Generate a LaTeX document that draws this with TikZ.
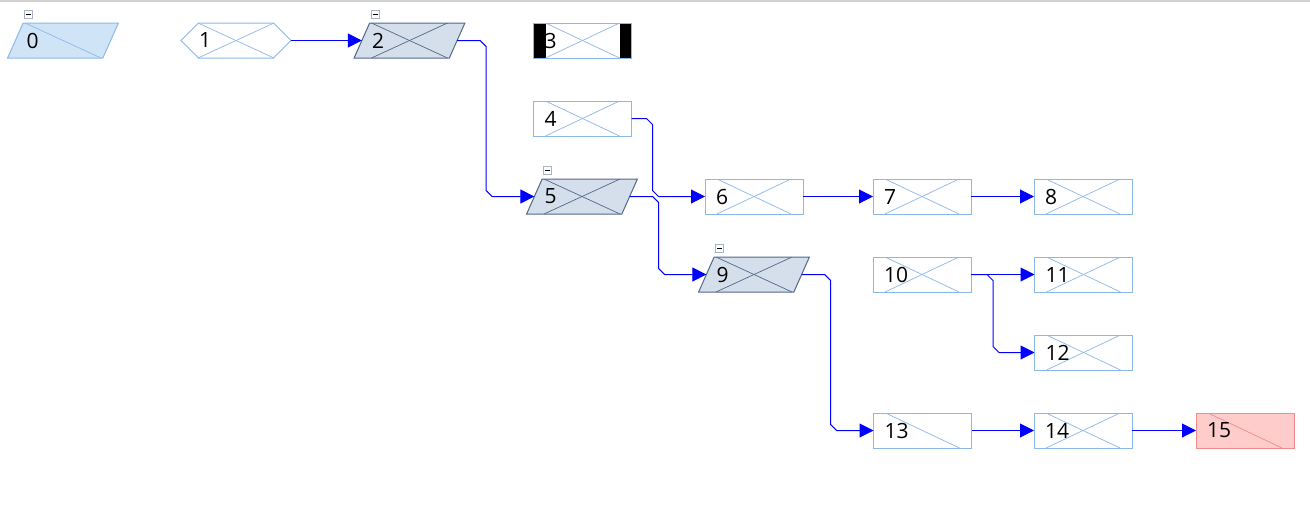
\documentclass[tikz,border=0pt]{standalone}
\usepackage{fontspec}
\setmainfont{Open Sans}
\usetikzlibrary{calc,arrows.meta,shapes.geometric,shapes.symbols}
\definecolor{boxline}{RGB}{140,184,232}
\definecolor{zerofill}{RGB}{208,228,248}
\definecolor{grpfill}{RGB}{213,223,235}
\definecolor{grpline}{RGB}{80,104,136}
\definecolor{redfill}{RGB}{255,204,204}
\definecolor{redline}{RGB}{240,140,140}
\definecolor{minusline}{RGB}{168,180,196}
\definecolor{linkblue}{RGB}{0,0,255}
\tikzset{
	item/.style={draw=boxline, line width=1pt, inner sep=0pt, outer sep=0pt, fill=white},
	rectitem/.style={item, rectangle, minimum width=98pt, minimum height=35pt},
	slantitem/.style={item, trapezium, trapezium left angle=64, trapezium right angle=116, inner xsep=10pt, inner ysep=4pt, trapezium stretches, minimum width=111pt, minimum height=35pt},
	hexitem/.style={item, signal, signal from=nowhere, signal to=west and east, minimum width=110pt, minimum height=35pt},
	grp/.style={draw=grpline, fill=grpfill},
	cross/.style 2 args={path picture={
		\draw[#1, line width=0.7pt] ($(path picture bounding box.center)+(-#2,-17.5)$) -- ($(path picture bounding box.center)+(#2,17.5)$);
		\draw[#1, line width=0.7pt] ($(path picture bounding box.center)+(-#2,17.5)$) -- ($(path picture bounding box.center)+(#2,-17.5)$);}},
	diag/.style 2 args={path picture={
		\draw[#1, line width=0.7pt] ($(path picture bounding box.center)+(-#2,-17.5)$) -- ($(path picture bounding box.center)+(#2,17.5)$);}},
	barcross/.style={path picture={
		\fill[black] (path picture bounding box.north west) rectangle ($(path picture bounding box.south west)+(12,0)$);
		\fill[black] (path picture bounding box.north east) rectangle ($(path picture bounding box.south east)+(-12,0)$);
		\draw[boxline, line width=0.7pt] ($(path picture bounding box.center)+(-37,-17.5)$) -- ($(path picture bounding box.center)+(37,17.5)$);
		\draw[boxline, line width=0.7pt] ($(path picture bounding box.center)+(-37,17.5)$) -- ($(path picture bounding box.center)+(37,-17.5)$);}},
	lbl/.style={anchor=west, inner sep=0pt, font=\fontsize{21}{25}\selectfont},
	minusbox/.style={draw=minusline, fill=white, line width=1pt, minimum size=8pt, inner sep=0pt, anchor=south west,
		path picture={\draw[black, line width=1pt] ($(path picture bounding box.center)+(-2.5,0)$) -- ($(path picture bounding box.center)+(2.5,0)$);}},
	link/.style={draw=linkblue, line width=1pt, -{Triangle[length=14pt,width=14pt]}}
}
\def\elbow#1#2#3{\draw[link] (#1.east) -- ++(#3,0) -- ++(6,6) -- ($(#2.west -| #1.east)+(#3+6,-6)$) -- ++(6,6) -- (#2.west);}

\begin{document}
\begin{tikzpicture}[x=1pt, y=-1pt]
		%%%%% START %%%%%
		\useasboundingbox (0,0) rectangle (1310,512);
		\draw[black!18, line width=2pt] (0,1) -- (1310,1);
		
		% first row
		\node[slantitem, fill=zerofill, diag={boxline}{38}, label={[lbl, xshift=11pt]west:0}] (n0) at (63,40.5) {};
		\node[hexitem, cross={boxline}{38}, label={[lbl, xshift=18pt]west:1}] (n1) at (236,40.5) {};
		\node[slantitem, grp, cross={grpline}{38}, label={[lbl, xshift=10pt]west:2}] (n2) at (409.5,40.5) {};
		\node[rectitem, barcross, label={[lbl, xshift=11pt]west:3}] (n3) at (582.5,40.5) {};
		
		\node[rectitem, cross={boxline}{37}, label={[lbl, xshift=11pt]west:4}] (n4) at (582.5,118.5) {};
		
		% middle rows
		\node[slantitem, grp, cross={grpline}{38}, label={[lbl, xshift=10pt]west:5}] (n5) at (582,196.5) {};
		\node[rectitem, cross={boxline}{37}, label={[lbl, xshift=11pt]west:6}] (n6) at (754,196.5) {};
		\node[rectitem, cross={boxline}{37}, label={[lbl, xshift=11pt]west:7}] (n7) at (922,196.5) {};
		\node[rectitem, cross={boxline}{37}, label={[lbl, xshift=11pt]west:8}] (n8) at (1083,196.5) {};
		
		\node[slantitem, grp, cross={grpline}{38}, label={[lbl, xshift=10pt]west:9}] (n9) at (754,274.5) {};
		\node[rectitem, cross={boxline}{37}, label={[lbl, xshift=11pt]west:10}] (n10) at (922,274.5) {};
		\node[rectitem, cross={boxline}{37}, label={[lbl, xshift=11pt]west:11}] (n11) at (1083.5,274.5) {};
		\node[rectitem, cross={boxline}{37}, label={[lbl, xshift=11pt]west:12}] (n12) at (1083.5,352.5) {};
		
		% last row
		\node[rectitem, diag={boxline}{37}, label={[lbl, xshift=11pt]west:13}] (n13) at (922.5,430.5) {};
		\node[rectitem, cross={boxline}{37}, label={[lbl, xshift=11pt]west:14}] (n14) at (1083,430.5) {};
		\node[rectitem, draw=redline, fill=redfill, diag={redline}{37}, label={[lbl, xshift=11pt]west:15}] (n15) at (1245,430.5) {};
		
		% collapse boxes
		\node[minusbox] (m0) at ([xshift=1pt, yshift=4.5pt]n0.top left corner) {};
		\node[minusbox] (m2) at ([xshift=1pt, yshift=4.5pt]n2.top left corner) {};
		\node[minusbox] (m5) at ([xshift=1pt, yshift=4.5pt]n5.top left corner) {};
		\node[minusbox] (m9) at ([xshift=1pt, yshift=4.5pt]n9.top left corner) {};
		
		% links
		\draw[link] (n1.east) -- (n2.west);
		\elbow{n2}{n5}{23}
		\elbow{n4}{n6}{15}
		\elbow{n5}{n9}{23}
		\draw[link] (n6.east) -- (n7.west);
		\draw[link] (n7.east) -- (n8.west);
		\elbow{n9}{n13}{23}
		\draw[link] (n10.east) -- (n11.west);
		\elbow{n10}{n12}{16}
		\draw[link] (n13.east) -- (n14.west);
		\draw[link] (n14.east) -- (n15.west);
		%%%%% END %%%%%
\end{tikzpicture}
\end{document}
